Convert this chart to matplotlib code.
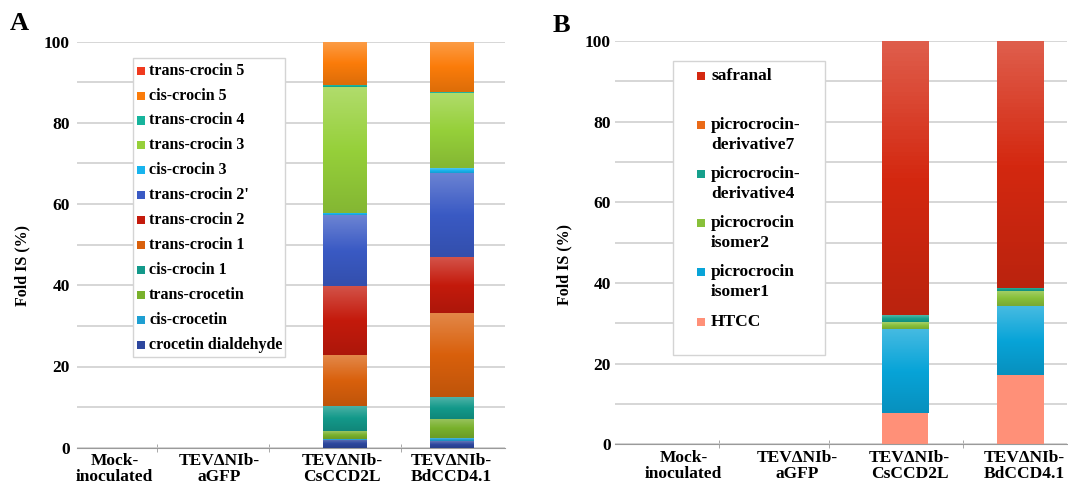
import numpy as np
import matplotlib
matplotlib.use("Agg")
import matplotlib.pyplot as plt
from matplotlib.colors import LinearSegmentedColormap, to_rgb
from matplotlib.patches import Rectangle

# categories (same for both panels)
groups = ["Mock-\ninoculated", "TEV\u0394NIb-\naGFP", "TEV\u0394NIb-\nCsCCD2L", "TEV\u0394NIb-\nBdCCD4.1"]

# panel A, bottom to top of the stack
crocetin_dialdehyde = [0, 0, 2.0, 1.6]
cis_crocetin = [0, 0, 0.1, 0.7]
trans_crocetin = [0, 0, 1.9, 4.8]
cis_crocin_1 = [0, 0, 6.3, 5.3]
trans_crocin_1 = [0, 0, 12.5, 20.8]
trans_crocin_2 = [0, 0, 17.0, 13.7]
trans_crocin_2b = [0, 0, 17.4, 20.8]
cis_crocin_3 = [0, 0, 0.6, 1.1]
trans_crocin_3 = [0, 0, 31.0, 18.5]
trans_crocin_4 = [0, 0, 0.5, 0.2]
cis_crocin_5 = [0, 0, 10.7, 12.5]
trans_crocin_5 = [0, 0, 0.0, 0.0]

names_a = ["crocetin dialdehyde", "cis-crocetin", "trans-crocetin", "cis-crocin 1",
           "trans-crocin 1", "trans-crocin 2", "trans-crocin 2'", "cis-crocin 3",
           "trans-crocin 3", "trans-crocin 4", "cis-crocin 5", "trans-crocin 5"]
series_a = [crocetin_dialdehyde, cis_crocetin, trans_crocetin, cis_crocin_1,
            trans_crocin_1, trans_crocin_2, trans_crocin_2b, cis_crocin_3,
            trans_crocin_3, trans_crocin_4, cis_crocin_5, trans_crocin_5]
colors_a = ["#2d479e", "#1e9fd2", "#79b12c", "#13998a",
            "#d9600c", "#c41a0c", "#3a5ac4", "#18b4ee",
            "#96d03a", "#16b49c", "#fb7c0a", "#f03a1e"]

# panel B, bottom to top
htcc = [0, 0, 7.7, 17.1]
picro_isomer1 = [0, 0, 21.0, 17.1]
picro_isomer2 = [0, 0, 1.7, 3.8]
picro_deriv4 = [0, 0, 1.6, 0.8]
picro_deriv7 = [0, 0, 0.0, 0.0]
safranal = [0, 0, 68.0, 61.2]

names_b = ["HTCC", "picrocrocin\nisomer1", "picrocrocin\nisomer2",
           "picrocrocin-\nderivative4", "picrocrocin-\nderivative7", "safranal"]
series_b = [htcc, picro_isomer1, picro_isomer2, picro_deriv4, picro_deriv7, safranal]
colors_b = ["#ff9078", "#08a4d8", "#88c03a", "#16a08c", "#ea6a18", "#d42810"]

FONT = "Liberation Serif"
W, H = 1068, 487


def shade(c, f):
    r = np.array(to_rgb(c))
    if f > 0:
        return tuple(r + (1 - r) * f)
    return tuple(r * (1 + f))


def stacked(ax, series, colors, width, flat=()):
    x = np.arange(len(groups))
    bottom = np.zeros(len(groups))
    for vals, c in zip(series, colors):
        vals = np.array(vals, dtype=float)
        bars = ax.bar(x, vals, width, bottom=bottom, color=c, linewidth=0, zorder=2)
        if c not in flat:
            cmap = LinearSegmentedColormap.from_list("g", [shade(c, -0.12), c, shade(c, 0.25)])
            grad = np.linspace(0, 1, 64).reshape(-1, 1)
            for b in bars:
                if b.get_height() <= 0:
                    continue
                x0, y0 = b.get_x(), b.get_y()
                im = ax.imshow(grad, cmap=cmap, origin="lower", aspect="auto",
                               extent=(x0, x0 + b.get_width(), y0, y0 + b.get_height()),
                               zorder=3)
                im.set_clip_path(b)
        bottom += vals


def style(ax, xlim, label_pos, bounds, ypad):
    ax.set_xlim(*xlim)
    ax.set_ylim(0, 100)
    ax.set_yticks(np.arange(0, 101, 20))
    ax.set_yticks(np.arange(10, 100, 20), minor=True)
    ax.yaxis.grid(True, which="both", color="#cfcfcf", linewidth=1.2, zorder=0)
    ax.set_axisbelow(True)
    ax.tick_params(axis="y", which="both", length=0, pad=ypad)
    ax.set_xticks(label_pos, groups)
    ax.set_xticks(bounds, minor=True)
    ax.tick_params(axis="x", which="major", length=0, pad=4)
    ax.tick_params(axis="x", which="minor", length=6, direction="inout", color="#9a9a9a")
    for s in ["left", "right", "top"]:
        ax.spines[s].set_visible(False)
    ax.spines["bottom"].set_color("#9a9a9a")
    for t in ax.get_xticklabels() + ax.get_yticklabels():
        t.set_fontfamily(FONT)
        t.set_fontweight("bold")
    for t in ax.get_xticklabels():
        t.set_fontsize(12.5)
        t.set_linespacing(0.98)
    for t in ax.get_yticklabels():
        t.set_fontsize(12.5)
    ax.set_ylabel("Fold IS (%)", fontfamily=FONT, fontweight="bold", fontsize=11.5)


def legend_box(fig, box, names, colors, y0, step, fs, hx, tx, line_h):
    x1, y1, x2, y2 = box
    fig.patches.append(Rectangle((x1 / W, 1 - y2 / H), (x2 - x1) / W, (y2 - y1) / H,
                                 transform=fig.transFigure, facecolor="white",
                                 edgecolor="#d4d4d4", linewidth=1, zorder=5))
    for i, (nm, c) in enumerate(zip(names, colors)):
        yc = y0 + i * step
        fig.patches.append(Rectangle((hx / W, 1 - (yc + 4) / H), 8 / W, 8 / H,
                                     transform=fig.transFigure, facecolor=c,
                                     edgecolor="none", zorder=6))
        for k, line in enumerate(nm.split("\n")):
            fig.text(tx / W, 1 - (yc + k * line_h) / H, line, fontfamily=FONT,
                     fontweight="bold", fontsize=fs, va="center", ha="left", zorder=7)


fig = plt.figure(figsize=(W / 100, H / 100), dpi=100)

# panel A
axA = fig.add_axes([77 / W, 1 - 447.7 / H, 428 / W, 406 / H])
stacked(axA, series_a, colors_a, 0.41)
style(axA, (-0.5, 3.5), [-0.15, 0.83, 1.98, 3.0], [0.25, 1.29, 2.53], 5)
axA.yaxis.set_label_coords(-0.11, 0.45)

# panel B
axB = fig.add_axes([615 / W, 1 - 444.3 / H, 452 / W, 403.3 / H])
stacked(axB, series_b, colors_b, 0.40, flat=("#ff9078",))
style(axB, (-0.5, 3.4), [0.09, 1.07, 2.04, 3.03], [0.40, 1.35, 2.5], 3)
axB.yaxis.set_label_coords(-0.095, 0.445)

legend_box(fig, (133, 58, 285, 357), names_a[::-1], colors_a[::-1],
           70.7, 24.9, 11.5, 137, 149, 20)
legend_box(fig, (673, 61, 825, 355), names_b[::-1], colors_b[::-1],
           76, 49.1, 12.5, 697, 711, 19.5)

fig.text(10 / W, 1 - 24 / H, "A", fontfamily=FONT, fontweight="bold", fontsize=19, va="center")
fig.text(553 / W, 1 - 26 / H, "B", fontfamily=FONT, fontweight="bold", fontsize=19, va="center")

fig.savefig("out.png", dpi=100)
